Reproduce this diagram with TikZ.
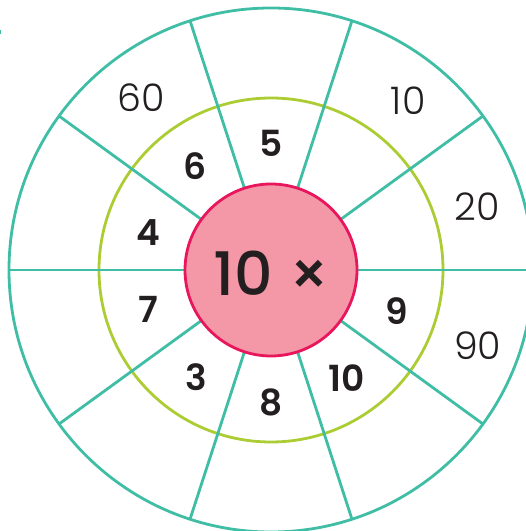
\documentclass[tikz,border=0pt]{standalone}
\usepackage{fontspec}
\usetikzlibrary{calc}
\setmainfont{Poppins}
\newfontfamily\lightfont{Poppins Light}
\newfontfamily\boldfont{Poppins SemiBold}
\newfontfamily\medfont{Poppins Medium}
\definecolor{ringteal}{RGB}{64,190,165}
\definecolor{ringgreen}{RGB}{172,204,52}
\definecolor{hubfill}{RGB}{244,151,166}
\definecolor{hubline}{RGB}{232,22,92}
\definecolor{ink}{RGB}{35,31,32}
\begin{document}
\begin{tikzpicture}[x=1pt,y=1pt,
  ring/.style={circle,inner sep=0pt,outer sep=0pt},
  spoke/.style={draw=ringteal,line width=2.8pt},
  innernum/.style={text=ink,font=\boldfont\fontsize{36}{36}\selectfont,inner sep=0pt},
  outernum/.style={text=ink,font=\lightfont\fontsize{38}{38}\selectfont,inner sep=0pt}]
\useasboundingbox (0,0) rectangle (526,531);
\coordinate (c) at (271,261);
\node[ring,minimum size=524pt,draw=ringteal,line width=2.8pt] (outer) at (c) {};
\node[ring,minimum size=344pt,draw=ringgreen,line width=2.8pt] (middle) at (c) {};
\foreach \a in {0,36,...,324} {
  \draw[spoke] (c) -- (outer.\a);
}
\node[ring,minimum size=172pt,draw=hubline,fill=hubfill,line width=2.8pt] (hub) at (c) {};
\node[text=ink,font=\medfont\fontsize{60}{60}\selectfont,inner sep=0pt] (title) at (272,258) {10 ×};
% inner ring
\node[innernum] (i5)  at ($(c)+(90:127)$)  {5};
\node[innernum] (i6)  at ($(c)+(126:129)$) {6};
\node[innernum] (i4)  at ($(c)+(163:128)$) {4};
\node[innernum] (i7)  at ($(c)+(198:129)$) {7};
\node[innernum] (i3)  at ($(c)+(235:131)$) {3};
\node[innernum] (i8)  at ($(c)+(270:132)$) {8};
\node[innernum] (i10) at ($(c)+(305:132)$) {10};
\node[innernum] (i9)  at ($(c)+(342:132)$) {9};
% outer ring
\node[outernum] (o60) at ($(c)+(127:216)$) {60};
\node[outernum] (o10) at ($(c)+(51:218)$)  {10};
\node[outernum] (o20) at ($(c)+(17:216)$)  {20};
\node[outernum] (o90) at ($(c)+(-20:220)$) {90};
\fill[ringteal] (0,497) rectangle (1.2,501);
\end{tikzpicture}
\end{document}
